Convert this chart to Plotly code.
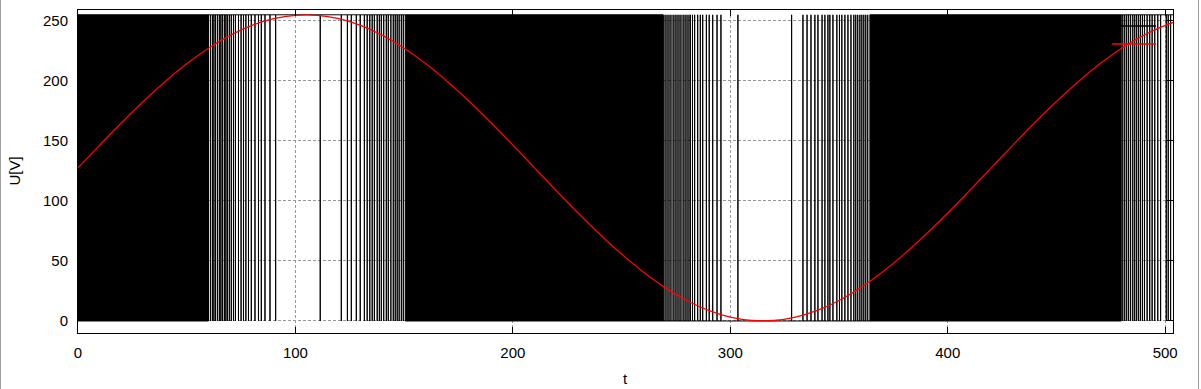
import plotly.graph_objects as go

# ---------------- data ----------------
# reference sine (red)
sine_t = [0, 10, 20, 30, 40, 50, 60, 70, 80, 90, 100, 110, 120, 130, 140, 150,
          160, 170, 180, 190, 200, 210, 220, 230, 240, 250, 260, 270, 280, 290,
          300, 310, 320, 330, 340, 350, 360, 370, 380, 390, 400, 410, 420, 430,
          440, 450, 460, 470, 480, 490, 500, 504]
sine_v = [127.5, 146.5, 165.1, 182.8, 199.3, 214.2, 227.2, 237.9, 246.2, 251.8,
          254.6, 254.6, 251.8, 246.2, 237.9, 227.2, 214.2, 199.3, 182.8, 165.1,
          146.5, 127.5, 108.5, 89.9, 72.2, 55.7, 40.8, 27.8, 17.1, 8.8,
          3.2, 0.4, 0.4, 3.2, 8.8, 17.1, 27.8, 40.8, 55.7, 72.2,
          89.9, 108.5, 127.5, 146.5, 165.1, 182.8, 199.3, 214.2, 227.2, 237.9,
          246.2, 248.8]

# PWM signal (black): intervals where it toggles too fast to resolve
dense_start = [0.0, 150.5, 364.2]
dense_end = [60.0, 269.1, 479.8]
t_end = 503.6
pwm_low = 0
pwm_high = 255
# level held in the gap after each dense band
gap_level = [255, 0, 255]
# resolved single pulses inside each gap
gap_pulses = [
    [60.0, 60.9, 61.8, 62.5, 63.2, 64.1, 65.0, 65.7, 66.4, 67.3, 68.0, 68.7,
     69.6, 70.5, 71.5, 72.4, 73.8, 75.0, 76.1, 77.2, 78.4, 79.7, 81.4, 83.0,
     84.3, 86.0, 88.3, 90.9, 111.4, 121.1, 123.9, 125.7, 128.0, 129.8, 131.7,
     133.0, 134.2, 135.3, 136.3, 137.6, 138.6, 139.5, 140.6, 141.8, 142.7,
     143.9, 145.0, 145.9, 146.8, 147.7, 148.7, 149.6],
    [269.1, 270.0, 270.9, 271.8, 272.7, 273.7, 274.6, 275.5, 276.4, 277.3,
     278.3, 279.2, 280.1, 281.0, 281.7, 282.6, 283.6, 285.0, 286.2, 287.3,
     289.0, 290.3, 291.9, 293.9, 295.7, 303.5, 328.2, 333.4, 335.3, 337.1,
     338.9, 340.3, 342.2, 343.5, 344.9, 345.8, 347.2, 349.0, 350.2, 351.3,
     352.7, 354.1, 355.5, 356.8, 357.7, 358.6, 359.6, 360.5, 361.4, 362.3,
     363.2],
    [480.5, 481.4, 482.3, 483.2, 484.1, 485.1, 486.0, 486.9, 487.8, 488.7,
     489.6, 490.5, 491.7, 492.9, 494.0, 495.2, 496.6, 497.9, 500.5, 501.4,
     502.5],
]

x_ticks = [0, 100, 200, 300, 400, 500]
y_ticks = [0, 50, 100, 150, 200, 250]
x_title = "t"
y_title = "U[V]"

# ---------------- build traces ----------------
band_x, band_y = [], []
for s, e in zip(dense_start, dense_end):
    band_x += [s, e, e, s, s, None]
    band_y += [pwm_low, pwm_low, pwm_high, pwm_high, pwm_low, None]

gap_starts = dense_end
gap_ends = dense_start[1:] + [t_end]
sig_x, sig_y = [], []
for gs, ge, lvl, pulses in zip(gap_starts, gap_ends, gap_level, gap_pulses):
    other = pwm_low if lvl == pwm_high else pwm_high
    sig_x.append(gs)
    sig_y.append(lvl)
    for p in pulses:
        sig_x += [p, p, p]
        sig_y += [lvl, other, lvl]
    sig_x += [ge, None]
    sig_y += [lvl, None]

fig = go.Figure()
fig.add_trace(go.Scatter(x=band_x, y=band_y, mode="lines", fill="toself",
                         fillcolor="black", line=dict(color="black", width=1),
                         hoverinfo="skip", showlegend=False))
fig.add_trace(go.Scatter(x=sig_x, y=sig_y, mode="lines",
                         line=dict(color="black", width=1),
                         hoverinfo="skip", showlegend=False))
fig.add_trace(go.Scatter(x=sine_t, y=sine_v, mode="lines",
                         line=dict(color="#ff0000", width=1.3, shape="spline"),
                         showlegend=False))

L, R, T, B = 78, 28, 10, 56
W, H = 1201, 389
pw, ph = W - L - R, H - T - B


def px(xp):
    return (xp - L) / pw


def py(yp):
    return (H - B - yp) / ph


shapes = []
# key samples (gnuplot-style key, top right)
for yk, col in [(26, "black"), (44, "#ff0000")]:
    shapes.append(dict(type="line", xref="paper", yref="paper",
                       x0=px(1112), x1=px(1156), y0=py(yk), y1=py(yk),
                       line=dict(color=col, width=1.3), layer="above"))
# page frame (grey vertical edges)
for xe in [0.5, 1198.5]:
    shapes.append(dict(type="line", xref="paper", yref="paper",
                       x0=px(xe), x1=px(xe), y0=py(0), y1=py(H),
                       line=dict(color="#a0a0a0", width=1), layer="above"))

font = dict(family="Liberation Sans, Arial, sans-serif", size=15, color="black")
axis_common = dict(showline=True, linecolor="black", linewidth=1, mirror="allticks",
                   ticks="inside", ticklen=6, tickcolor="black", tickwidth=1,
                   showgrid=True, gridcolor="#999999", griddash="3px,2px",
                   gridwidth=1, zeroline=False, tickfont=font,
                   ticklabelstandoff=6)

fig.update_layout(
    width=W, height=H,
    margin=dict(l=L, r=R, t=T, b=B, pad=0),
    plot_bgcolor="white", paper_bgcolor="white",
    font=font,
    xaxis=dict(range=[0, t_end], tickvals=x_ticks, **axis_common),
    yaxis=dict(range=[-10, 259], tickvals=y_ticks, **axis_common),
    shapes=shapes,
    annotations=[
        dict(text=y_title, xref="paper", yref="paper", x=px(14), y=0.5,
             textangle=-90, showarrow=False, font=font,
             xanchor="center", yanchor="middle"),
        dict(text=x_title, xref="paper", yref="paper", x=0.5, y=py(378),
             showarrow=False, font=font, xanchor="center", yanchor="middle"),
    ],
)

fig.write_html(
    "out.html",
    config={"displayModeBar": False},
    post_script="document.body.style.margin='0';document.body.style.padding='0';"
                "document.body.style.overflow='hidden';",
)
